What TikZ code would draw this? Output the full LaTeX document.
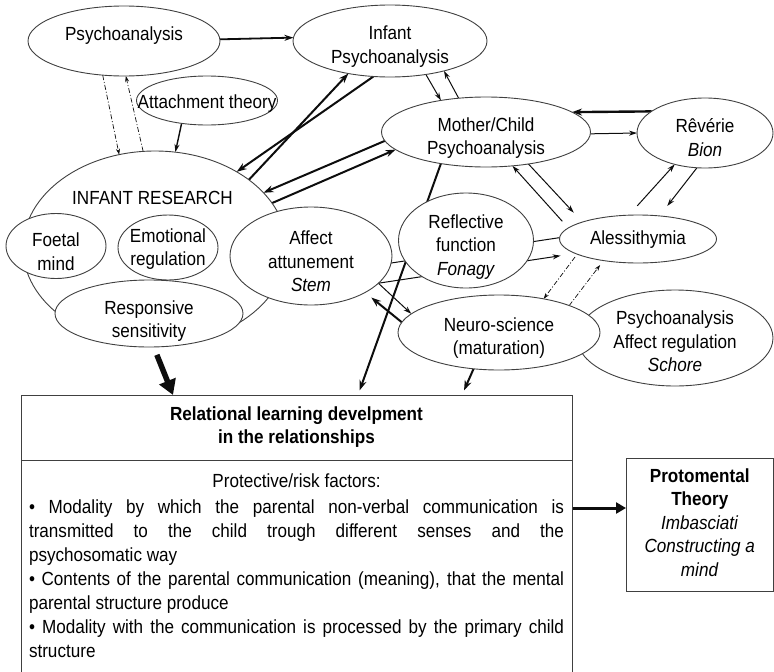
\documentclass[tikz,border=0pt]{standalone}
\usepackage{fontspec}
\setmainfont{Liberation Sans}[FakeStretch=0.9]
\usetikzlibrary{shapes.geometric,arrows.meta}
\pgfdeclarelayer{bg}
\pgfsetlayers{bg,main}
\definecolor{ecol}{gray}{0.25}
\definecolor{lcol}{gray}{0.05}
\newcommand\nfont{\fontsize{19}{23.5}\selectfont}
\newcommand\ntxt[2][0pt]{\raisebox{#1}[\height][\depth]{\begin{tabular}{@{}c@{}}#2\end{tabular}}}
\begin{document}
\begin{tikzpicture}[x=1pt,y=-1pt,
  ell/.style={ellipse, draw=ecol, line width=0.9pt, fill=white, inner sep=-60pt, outer sep=0pt, font=\nfont},
  con/.style={draw=lcol, line width=1pt, -{Stealth[length=8pt,width=5pt]}},
  thk/.style={draw=lcol, line width=2pt, -{Stealth[length=10pt,width=7pt]}},
  dd/.style={draw=lcol, line width=0.7pt, dash pattern=on 5pt off 2pt on 1pt off 2pt, -{Stealth[length=6pt,width=4pt]}},
  boxn/.style={rectangle, draw=ecol, line width=0.9pt, fill=white, inner sep=0pt, outer sep=0pt, font=\nfont},
]
\useasboundingbox (0,0) rectangle (774,672);

% ellipses
\node[ell, minimum width=192pt, minimum height=70pt] (psy) at (124,41) {\ntxt[5pt]{Psychoanalysis}};
\node[ell, minimum width=194pt, minimum height=72pt] (inf) at (390,41) {\ntxt[-6pt]{Infant\\Psychoanalysis}};
\node[ell, minimum width=141pt, minimum height=49pt] (att) at (207,100.5) {\ntxt[-3.5pt]{Attachment theory}};
\node[ell, minimum width=264pt, minimum height=194pt] (ir) at (155,248) {};
\node[font=\nfont, anchor=base, inner sep=0pt] (irl) at (152.5,204) {INFANT RESEARCH};
\node[ell, minimum width=100pt, minimum height=65pt] (foe) at (56,246) {\ntxt[-8pt]{Foetal\\mind}};
\node[ell, minimum width=100pt, minimum height=65pt] (emo) at (168,247.5) {\ntxt[-2pt]{Emotional\\regulation}};
\node[ell, minimum width=188pt, minimum height=67pt] (resp) at (149,313.5) {\ntxt[-8pt]{Responsive\\sensitivity}};
\node[ell, minimum width=162pt, minimum height=98pt] (aff) at (311,256) {\ntxt[-7.5pt]{Affect\\attunement\\\textit{Stem}}};
\node[ell, minimum width=209pt, minimum height=70pt] (mc) at (486,132) {\ntxt[-6.5pt]{Mother/Child\\Psychoanalysis}};
\node[ell, minimum width=136pt, minimum height=70pt] (rev) at (705,133) {\ntxt[-7pt]{Rêvérie\\\textit{Bion}}};
\node[ell, minimum width=135pt, minimum height=95pt] (refl) at (466,240.5) {\ntxt[-6.5pt]{Reflective\\function\\\textit{Fonagy}}};
\node[ell, minimum width=157pt, minimum height=48pt] (ale) at (638,239) {\ntxt[-1pt]{Alessithymia}};
\node[ell, minimum width=196pt, minimum height=96pt] (sch) at (675,338) {\ntxt[-5.5pt]{Psychoanalysis\\Affect regulation\\\textit{Schore}}};
\node[ell, minimum width=202pt, minimum height=75pt] (neu) at (499,332.5) {\ntxt[-6pt]{Neuro-science\\(maturation)}};

% boxes
\node[boxn, minimum width=551pt, minimum height=65pt] (hdr) at (296.5,427.5)
  {\ntxt{\textbf{Relational learning develpment}\\\textbf{in the relationships}}};
\node[boxn, minimum width=551pt, minimum height=216pt] (fac) at (296.5,568)
  {\begin{minipage}{535pt}\nfont\baselineskip=24pt\parindent=0pt\parskip=0pt
   \tolerance=10000
   {\centering Protective/risk factors:\strut\par}
   \vspace{2pt}
   \textbullet\ Modality by which the parental non-verbal communication is\linebreak
   transmitted to the child trough different senses and the\linebreak
   psychosomatic way\par
   \textbullet\ Contents of the parental communication (meaning), that the mental\linebreak
   parental structure produce\par
   \textbullet\ Modality with the communication is processed by the primary child\linebreak
   structure\strut\par
   \end{minipage}};
\node[boxn, minimum width=147.5pt, minimum height=133pt] (proto) at (699.75,524.5)
  {\ntxt{\textbf{Protomental}\\\textbf{Theory}\\\textit{Imbasciati}\\\textit{Constructing a}\\\textit{mind}}};

\coordinate (ya) at (0,508);

\begin{pgfonlayer}{bg}
\draw[con, line width=1.8pt, -{Stealth[length=9pt,width=6pt]}] (psy.1.8) -- (inf.178.2);
\draw[dd] (psy.238.5) -- (ir.111.6);
\draw[dd] (ir.97.7) -- (psy.273.3);
\draw[con, line width=1.4pt] (att.222.5) -- (ir.78.3);
\draw[thk] (inf.245) -- (ir.43.6);
\draw[thk] (ir.36.6) -- (inf.218.7);
\draw[thk] (mc.185.8) -- (ir.27);
\draw[thk] (ir.21) -- (mc.191.6);
\draw[con] (inf.317.4) -- (mc.145.2);
\draw[con] (mc.129.6) -- (inf.331.9);
\draw[thk, line width=2.4pt] (rev.158.9) -- (mc.13.1);
\draw[con] (mc.359.5) -- (rev.180);
\draw[con, shorten <=12.6pt] (ale.111.8) -- (rev.226.8);
\draw[con, shorten >=12.6pt] (rev.257.1) -- (ale.47.5);
\draw[con, shorten >=12.8pt] (mc.323.3) -- (ale.163.9);
\draw[con, shorten <=9pt] (ale.171.8) -- (mc.308.6);
\draw[draw=lcol, line width=1pt] (aff.355.8) -- (ale.179.3);
\draw[con, shorten >=14.9pt] (aff.338.8) -- (ale.193.6);
\draw[con] (aff.338.8) -- (neu.168.2);
\draw[thk, shorten >=8pt] (neu.174.4) -- (aff.326.8);
\draw[thk, shorten >=5pt] (mc.215.8) -- ([xshift=337pt]hdr.north west);
\draw[thk, shorten >=5pt] (neu.235.4) -- ([xshift=441pt]hdr.north west);
\draw[draw=lcol, line width=5.5pt, -{Triangle[length=15pt,width=17pt]}, shorten <=8.5pt] (resp.278.2) -- ([xshift=152pt]hdr.north west);
\draw[dd, shorten <=3.5pt] (ale.194) -- (neu.37.1);
\draw[dd, shorten >=5.6pt] (neu.21.7) -- (ale.212);
\draw[draw=lcol, line width=3pt, -{Triangle[length=10pt,width=11pt]}] (fac.east |- ya) -- (proto.west |- ya);
\end{pgfonlayer}
\end{tikzpicture}
\end{document}
